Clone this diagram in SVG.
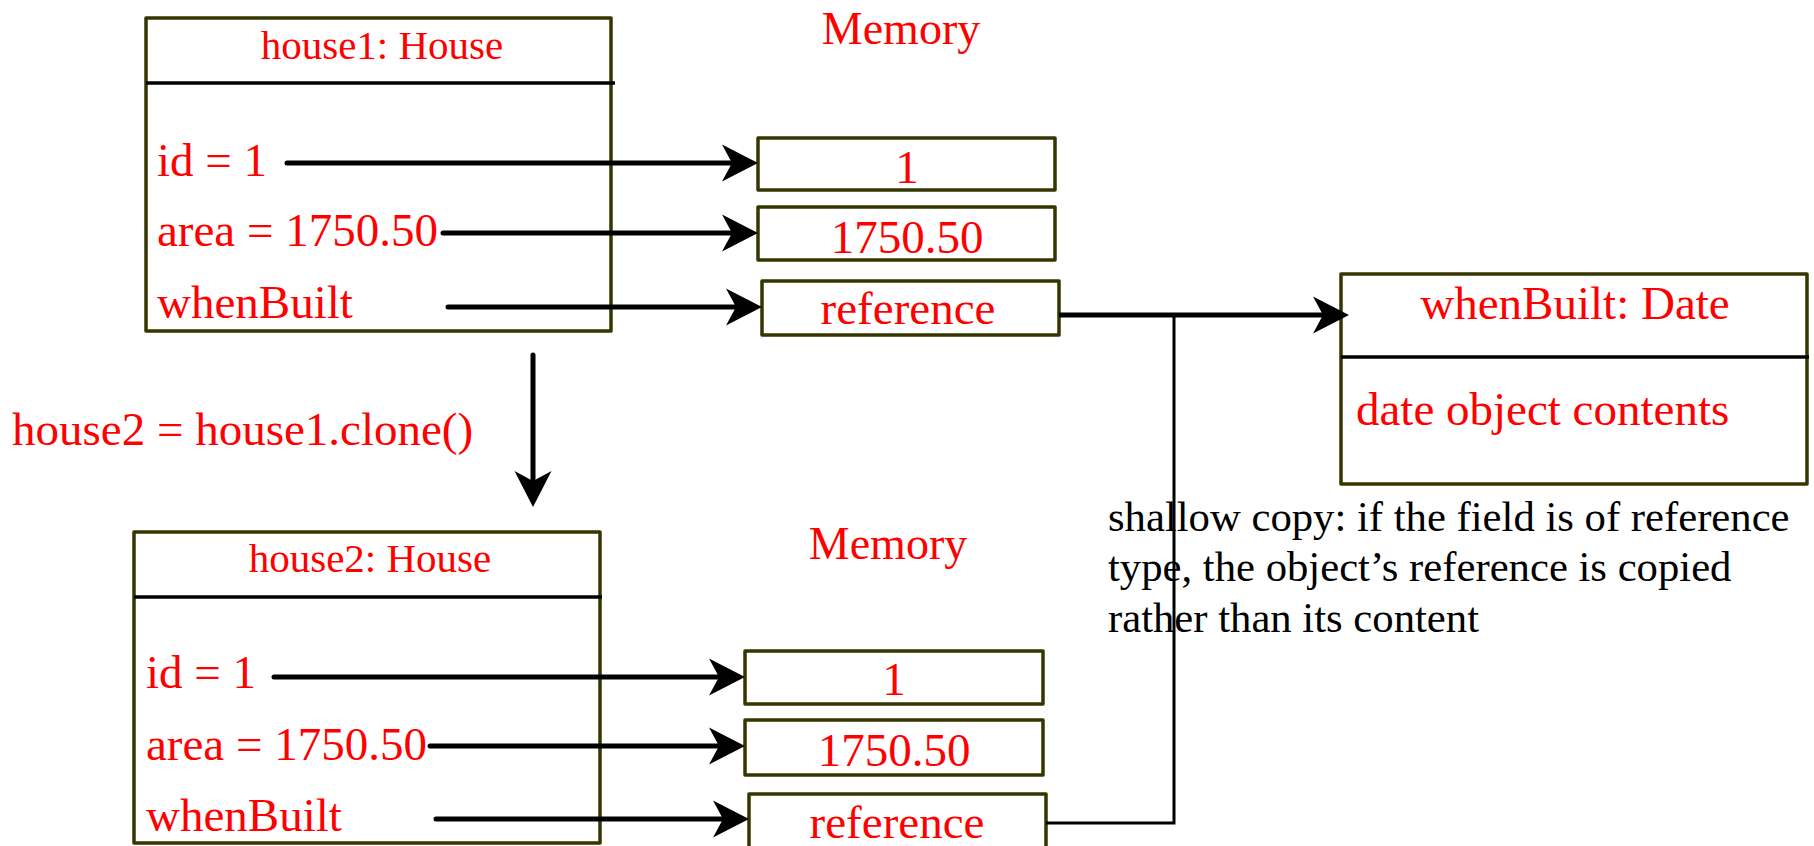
<svg xmlns="http://www.w3.org/2000/svg" width="1814" height="846" viewBox="0 0 1814 846">
<style>
.box{fill:#fff;stroke:#363600;stroke-width:3.5;stroke-linejoin:round}
.div{stroke:#000;stroke-width:3.5}
.r{fill:#ff0000;font-family:"Liberation Serif","Times New Roman",serif;font-size:47px}
.t{fill:#ff0000;font-family:"Liberation Serif","Times New Roman",serif;font-size:41px}
.k{fill:#000;font-family:"Liberation Serif","Times New Roman",serif;font-size:42.7px}
.m{text-anchor:middle}
.a{stroke:#000;stroke-width:5;fill:none;stroke-linecap:round;marker-end:url(#ah)}
.thin{stroke:#000;stroke-width:3;fill:none}
</style>
<defs>
<marker id="ah" markerUnits="userSpaceOnUse" viewBox="-16 -20 40 40" markerWidth="40" markerHeight="40" refX="0" refY="0" orient="auto">
<path d="M22,0 L-14,-18.5 L-4,0 L-14,18.5 Z" fill="#000"/>
</marker>
</defs>

<text class="r m" x="901" y="44" style="font-size:46px">Memory</text>
<text class="r m" x="888" y="559" style="font-size:46px">Memory</text>

<g id="house1">
<rect class="box" x="146" y="18" width="465" height="313"/>
<line class="div" x1="146" y1="83" x2="615" y2="83"/>
<text class="t m" x="382" y="59">house1: House</text>
<text class="r" x="157" y="176">id = 1</text>
<text class="r" x="157" y="246">area = 1750.50</text>
<text class="r" x="157" y="318">whenBuilt</text>
</g>

<g id="h1v1"><rect class="box" x="758" y="138" width="297" height="52"/><text class="r m" x="907" y="183">1</text></g>
<g id="h1v2"><rect class="box" x="758" y="207" width="297" height="53"/><text class="r m" x="907" y="253">1750.50</text></g>
<g id="h1v3"><rect class="box" x="762" y="281" width="297" height="54"/><text class="r m" x="908" y="324">reference</text></g>

<g id="date">
<rect class="box" x="1341" y="274" width="466" height="210"/>
<line class="div" x1="1341" y1="357" x2="1809" y2="357"/>
<text class="r m" x="1575" y="319">whenBuilt: Date</text>
<text class="r" x="1356" y="425">date object contents</text>
</g>

<text class="r" x="12" y="445">house2 = house1.clone()</text>

<g id="house2">
<rect class="box" x="134" y="532" width="466" height="311"/>
<line class="div" x1="134" y1="597" x2="602" y2="597"/>
<text class="t m" x="370" y="572">house2: House</text>
<text class="r" x="146" y="688">id = 1</text>
<text class="r" x="146" y="760">area = 1750.50</text>
<text class="r" x="146" y="831">whenBuilt</text>
</g>

<g id="h2v1"><rect class="box" x="745" y="651" width="298" height="53"/><text class="r m" x="894" y="695">1</text></g>
<g id="h2v2"><rect class="box" x="745" y="720" width="298" height="55"/><text class="r m" x="894" y="766">1750.50</text></g>
<g id="h2v3"><rect class="box" x="749" y="794" width="297" height="60"/><text class="r m" x="897" y="838">reference</text></g>

<g id="note">
<text class="k" x="1108" y="531">shallow copy: if the field is of reference</text>
<text class="k" x="1108" y="581">type, the object’s reference is copied</text>
<text class="k" x="1108" y="632">rather than its content</text>
</g>

<g id="connectors">
<line class="a" x1="287" y1="163" x2="736" y2="163"/>
<line class="a" x1="443" y1="233" x2="736" y2="233"/>
<line class="a" x1="448" y1="307" x2="740" y2="307"/>
<line class="a" x1="1059" y1="315" x2="1327" y2="315" style="stroke-linecap:butt"/>
<polyline class="thin" points="1046,823 1174,823 1174,315"/>
<line class="a" x1="533" y1="355" x2="533" y2="485"/>
<line class="a" x1="274" y1="677" x2="723" y2="677"/>
<line class="a" x1="430" y1="746" x2="723" y2="746"/>
<line class="a" x1="436" y1="819" x2="727" y2="819"/>
</g>
</svg>
